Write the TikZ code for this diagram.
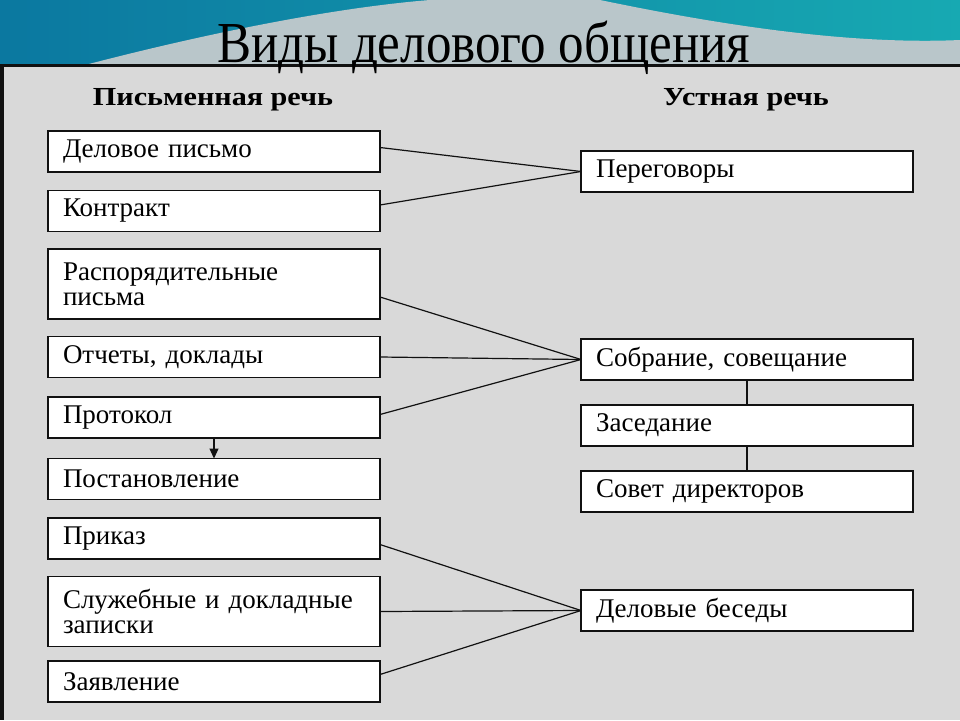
\documentclass[tikz,border=0pt]{standalone}
\usepackage{fontspec}
\setmainfont{Liberation Serif}
\usetikzlibrary{arrows.meta,positioning}
\definecolor{panelgrey}{HTML}{D9D9D9}
\definecolor{tealdark}{HTML}{0B78A0}
\definecolor{teallight}{HTML}{17A9B2}
\definecolor{swooshgrey}{HTML}{B9C6CA}
\definecolor{inkblack}{HTML}{111111}

\begin{document}
\begin{tikzpicture}[x=1pt,y=-1pt,node distance=18.5pt,
  wbox/.style={draw=inkblack,line width=1.8pt,fill=white,outer sep=0pt,minimum width=332pt,minimum height=41pt,text width=302pt,inner xsep=15pt,inner ysep=1pt,align=left,font=\fontsize{27}{25}\selectfont},
  tallbox/.style={wbox,minimum height=70pt},
  head/.style={font=\fontsize{26}{30}\selectfont\bfseries,xscale=1.16},
  link/.style={inkblack,line width=1.2pt}]
  \useasboundingbox (0,0) rectangle (960,720);
  % slide background
  \fill[panelgrey] (0,65) rectangle (960,720);
  \shade[left color=tealdark,right color=teallight] (0,0) rectangle (960,65);
  \fill[swooshgrey] (85,65) .. controls (200,35) and (330,8) .. (430,0) -- (600,0) .. controls (720,25) and (850,45) .. (960,40) -- (960,65) -- cycle;
  \draw[line width=3pt,inkblack] (0,65) -- (960,65);
  \draw[line width=4pt,inkblack] (2,65) -- (2,720);
  \node[font=\fontsize{58}{60}\selectfont,xscale=0.88,anchor=base] (title) at (484,62) {Виды делового общения};
  \node[head,anchor=base] (written) at (213,105) {Письменная речь};
  \node[head,anchor=base] (oral) at (746,105) {Устная речь};
  % written forms
  \node[wbox,anchor=north west] (letter) at (48,131) {Деловое письмо};
  \node[wbox,below=of letter] (contract) {Контракт};
  \node[tallbox,below=17.5pt of contract] (orders) {Распорядительные\\письма};
  \node[wbox,below=17.5pt of orders] (reports) {Отчеты, доклады};
  \node[wbox,below=19.5pt of reports] (minutes) {Протокол};
  \node[wbox,below=20.5pt of minutes] (decree) {Постановление};
  \node[wbox,below=of decree] (order) {Приказ};
  \node[tallbox,below=17.5pt of order] (memos) {Служебные и докладные\\записки};
  \node[wbox,below=14.5pt of memos] (request) {Заявление};
  % oral forms
  \node[wbox,anchor=north west] (talks) at (581,151) {Переговоры};
  \node[wbox,anchor=north west] (meeting) at (581,339) {Собрание, совещание};
  \node[wbox,below=25pt of meeting] (session) {Заседание};
  \node[wbox,below=25pt of session] (board) {Совет директоров};
  \node[wbox,anchor=north west] (conv) at (581,590) {Деловые беседы};
  % links
  \draw[link] ([yshift=4pt]letter.east) -- (talks.west);
  \draw[link] ([yshift=6pt]contract.east) -- (talks.west);
  \draw[link] ([yshift=-13pt]orders.east) -- (meeting.west);
  \draw[link] (reports.east) -- (meeting.west);
  \draw[link] ([yshift=3pt]minutes.east) -- (meeting.west);
  \draw[link] ([yshift=-6pt]order.east) -- (conv.west);
  \draw[link] (memos.east) -- (conv.west);
  \draw[link] ([yshift=7pt]request.east) -- (conv.west);
  \draw[link] (meeting.south) -- (session.north);
  \draw[link] (session.south) -- (board.north);
  \draw[link,-{Triangle[length=10pt,width=9pt]}] (minutes.south) -- (decree.north);
\end{tikzpicture}
\end{document}
